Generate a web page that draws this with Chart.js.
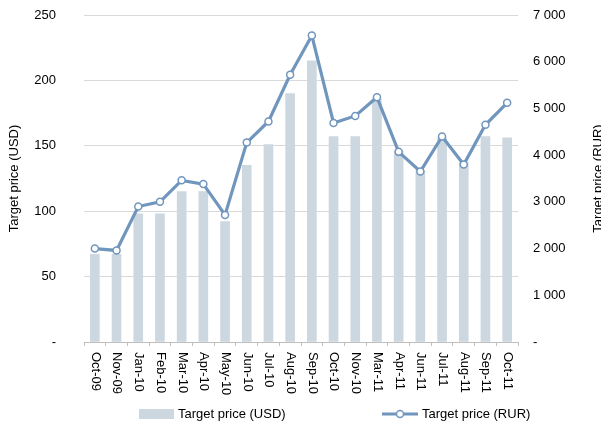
<!DOCTYPE html>
<html>
<head>
<meta charset="utf-8">
<script src="https://cdn.jsdelivr.net/npm/chart.js@4"></script>
<style>
    html, body { margin: 0; padding: 0; background: #fff; }
    #wrap { width: 601px; height: 428px; position: relative; }
</style>
</head>
<body>
<div id="wrap"><canvas id="priceChart"></canvas></div>
<script>
// Chart data
const months = ['Oct-09', 'Nov-09', 'Jan-10', 'Feb-10', 'Mar-10', 'Apr-10', 'May-10', 'Jun-10', 'Jul-10', 'Aug-10',
    'Sep-10', 'Oct-10', 'Nov-10', 'Mar-11', 'Apr-11', 'Jun-11', 'Jul-11', 'Aug-11', 'Sep-11', 'Oct-11'];
const targetUsd = [67, 67, 98, 98, 115, 115, 92, 135, 151, 190, 215, 157, 157, 186, 146, 131, 156, 137, 157, 156];
const targetRur = [2000, 1960, 2900, 3000, 3460, 3380, 2720, 4270, 4720, 5720, 6560, 4690, 4840, 5240, 4070, 3650, 4400, 3800, 4650, 5120];
const usdTicks = [0, 50, 100, 150, 200, 250];
const rurTicks = [0, 1000, 2000, 3000, 4000, 5000, 6000, 7000];

const FONT = '13px "Liberation Sans", Arial, sans-serif';
const barColor = '#cdd7df';
const lineColor = '#7096bd';

function formatRur(value) {
    if (value === 0) return '-';
    return String(value).replace(/\B(?=(\d{3})+(?!\d))/g, ' ');
}

// Draws axis titles, rotated month labels and the legend
const decorPlugin = {
    id: 'decor',
    afterDraw(chart) {
        const ctx = chart.ctx;
        const area = chart.chartArea;
        const xScale = chart.scales.x;
        const midY = (area.top + area.bottom) / 2;

        ctx.save();
        ctx.font = FONT;
        ctx.fillStyle = '#000';

        // Axis titles (both read bottom to top)
        ctx.textAlign = 'center';
        ctx.textBaseline = 'middle';
        [[14, 'Target price (USD)'], [598, 'Target price (RUR)']].forEach(([x, text]) => {
            ctx.save();
            ctx.translate(x, midY);
            ctx.rotate(-Math.PI / 2);
            ctx.fillText(text, 0, 0);
            ctx.restore();
        });

        // Month labels, reading top to bottom
        ctx.textAlign = 'left';
        months.forEach((label, i) => {
            const x = xScale.getPixelForValue(i);
            ctx.save();
            ctx.translate(x + 0.5, area.bottom + 10);
            ctx.rotate(Math.PI / 2);
            ctx.fillText(label, 0, 0);
            ctx.restore();
        });

        // Legend
        const legendY = 414;
        const barSet = chart.data.datasets[0];
        const lineSet = chart.data.datasets[1];
        ctx.fillStyle = barSet.backgroundColor;
        ctx.fillRect(139, legendY - 5, 35, 10);
        ctx.fillStyle = '#000';
        ctx.fillText(barSet.label, 178, legendY);

        ctx.strokeStyle = lineSet.borderColor;
        ctx.lineWidth = 3;
        ctx.beginPath();
        ctx.moveTo(382, legendY);
        ctx.lineTo(418, legendY);
        ctx.stroke();
        ctx.beginPath();
        ctx.arc(400, legendY, 3.5, 0, Math.PI * 2);
        ctx.fillStyle = '#fff';
        ctx.fill();
        ctx.lineWidth = 1.5;
        ctx.stroke();
        ctx.fillStyle = '#000';
        ctx.fillText(lineSet.label, 422, legendY);

        ctx.restore();
    }
};

const ctx = document.getElementById('priceChart').getContext('2d');
new Chart(ctx, {
    data: {
        labels: months,
        datasets: [
            {
                type: 'bar',
                label: 'Target price (USD)',
                data: targetUsd,
                yAxisID: 'yUsd',
                backgroundColor: barColor,
                barThickness: 9,
                order: 2
            },
            {
                type: 'line',
                label: 'Target price (RUR)',
                data: targetRur,
                yAxisID: 'yRur',
                borderColor: lineColor,
                borderWidth: 3.2,
                tension: 0,
                pointRadius: 3.5,
                pointBorderWidth: 1.5,
                pointBackgroundColor: '#fff',
                pointBorderColor: lineColor,
                order: 1
            }
        ]
    },
    options: {
        responsive: true,
        maintainAspectRatio: false,
        animation: false,
        layout: {
            padding: { top: 15, bottom: 40, left: 0, right: 0 }
        },
        plugins: {
            legend: { display: false },
            tooltip: { enabled: false }
        },
        scales: {
            x: {
                offset: true,
                grid: {
                    display: true,
                    drawOnChartArea: false,
                    drawTicks: true,
                    tickLength: 4,
                    color: '#bfbfbf',
                    offset: true
                },
                border: { display: true, color: '#bfbfbf' },
                ticks: { display: false },
                afterFit(scale) { scale.height = 46; }
            },
            yUsd: {
                position: 'left',
                min: 0,
                max: 250,
                afterBuildTicks(scale) { scale.ticks = usdTicks.map(v => ({ value: v })); },
                grid: { color: '#d9d9d9', drawTicks: false },
                border: { display: false },
                ticks: {
                    padding: 28,
                    color: '#000',
                    font: { family: '"Liberation Sans", Arial, sans-serif', size: 13 },
                    callback: value => value === 0 ? '-' : value
                },
                afterFit(scale) {
                    scale.width = 84;
                    scale.paddingTop = 0;
                    scale.paddingBottom = 0;
                }
            },
            yRur: {
                position: 'right',
                min: 0,
                max: 7000,
                afterBuildTicks(scale) { scale.ticks = rurTicks.map(v => ({ value: v })); },
                grid: { display: false, drawTicks: false },
                border: { display: false },
                ticks: {
                    padding: 15,
                    color: '#000',
                    font: { family: '"Liberation Sans", Arial, sans-serif', size: 13 },
                    callback: value => formatRur(value)
                },
                afterFit(scale) {
                    scale.width = 83;
                    scale.paddingTop = 0;
                    scale.paddingBottom = 0;
                }
            }
        }
    },
    plugins: [decorPlugin]
});
</script>
</body>
</html>
